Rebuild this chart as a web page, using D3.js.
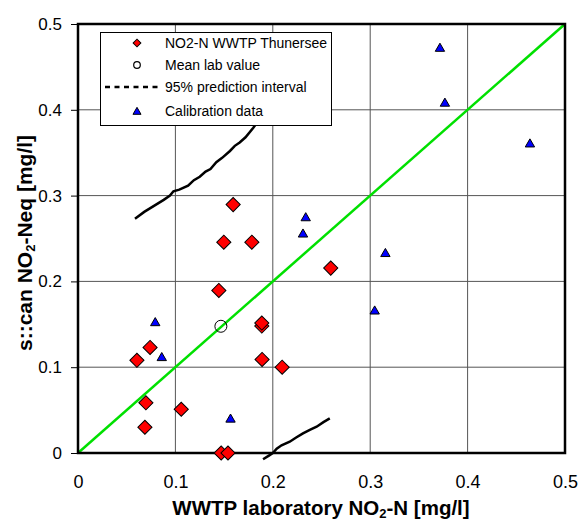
<!DOCTYPE html>
<html>
<head>
<meta charset="utf-8">
<script src="https://d3js.org/d3.v7.min.js"></script>
<style>
  body { margin: 0; background: #fff; }
  text { font-family: "Liberation Sans", Arial, sans-serif; }
</style>
</head>
<body>
<script>
// measured data (mg/l)
var ticks = [0, 0.1, 0.2, 0.3, 0.4, 0.5];
var thunLab = [0.0605, 0.074, 0.0697, 0.0687, 0.106, 0.1446, 0.1887, 0.1887, 0.189, 0.2096, 0.147, 0.154, 0.1593, 0.1497, 0.1785, 0.2595];
var thunScan = [0.108, 0.123, 0.0585, 0.030, 0.051, 0.1895, 0.148, 0.1515, 0.109, 0.100, 0, 0, 0.2895, 0.2457, 0.2457, 0.2155];
var meanLab = [0.1467];
var meanScan = [0.1477];
var calLab = [0.0793, 0.086, 0.1566, 0.2338, 0.231, 0.3156, 0.3046, 0.3716, 0.3767, 0.464];
var calScan = [0.1527, 0.112, 0.0403, 0.275, 0.256, 0.2333, 0.1663, 0.4725, 0.4085, 0.361];
var upperX = [0.0585, 0.068, 0.078, 0.088, 0.0944, 0.098, 0.104, 0.113, 0.119, 0.125, 0.131, 0.136, 0.142, 0.148, 0.156, 0.161, 0.166, 0.172, 0.180, 0.189];
var upperY = [0.273, 0.281, 0.288, 0.295, 0.300, 0.305, 0.307, 0.3116, 0.318, 0.322, 0.328, 0.331, 0.339, 0.344, 0.352, 0.358, 0.362, 0.368, 0.379, 0.393];
var lowerX = [0.190, 0.196, 0.200, 0.204, 0.209, 0.2174, 0.224, 0.231, 0.238, 0.245, 0.252, 0.2585];
var lowerY = [-0.0073, -0.003, 0.000, 0.005, 0.009, 0.0131, 0.018, 0.0229, 0.027, 0.0306, 0.036, 0.0403];
var legendLabels = ["NO2-N WWTP Thunersee", "Mean lab value", "95% prediction interval", "Calibration data"];

(function () {
  var W = 579, H = 519;
  var pL = 78, pR = 565, pT = 24, pB = 453;

  var svg = d3.select("body").append("svg").attr("width", W).attr("height", H);

  var x = d3.scaleLinear().domain([0, 0.5]).range([pL, pR]);
  var y = d3.scaleLinear().domain([0, 0.5]).range([pB, pT]);
  var fmt = function (d) { return d === 0 ? "0" : d3.format(".1f")(d); };

  // grid
  svg.append("g").selectAll("line").data(ticks.slice(1, 5)).enter().append("line")
    .attr("x1", function (d) { return x(d); }).attr("x2", function (d) { return x(d); })
    .attr("y1", pT).attr("y2", pB).attr("stroke", "#555").attr("stroke-width", 1);
  svg.append("g").selectAll("line").data(ticks.slice(1, 5)).enter().append("line")
    .attr("y1", function (d) { return y(d); }).attr("y2", function (d) { return y(d); })
    .attr("x1", pL).attr("x2", pR).attr("stroke", "#555").attr("stroke-width", 1);

  // y axis ticks + labels
  var yAxis = svg.append("g").attr("transform", "translate(" + pL + ",0)")
    .call(d3.axisLeft(y).tickValues(ticks).tickSize(7).tickPadding(9).tickFormat(fmt));
  yAxis.select(".domain").remove();
  yAxis.selectAll("line").attr("stroke", "#000");
  yAxis.selectAll("text").style("font-size", "17px").attr("fill", "#000")
    .style("font-family", "'Liberation Sans', Arial, sans-serif");

  // x axis labels
  var xAxis = svg.append("g").attr("transform", "translate(0," + pB + ")")
    .call(d3.axisBottom(x).tickValues(ticks).tickSize(0).tickPadding(22).tickFormat(fmt));
  xAxis.select(".domain").remove();
  xAxis.selectAll("text").style("font-size", "18px").attr("fill", "#000")
    .style("font-family", "'Liberation Sans', Arial, sans-serif");

  // 1:1 line
  svg.append("line").attr("x1", x(0)).attr("y1", y(0)).attr("x2", x(0.5)).attr("y2", y(0.5))
    .attr("stroke", "#00e000").attr("stroke-width", 2.5);

  // prediction interval curves
  var line = d3.line().x(function (d) { return x(d[0]); }).y(function (d) { return y(d[1]); });
  [[upperX, upperY], [lowerX, lowerY]].forEach(function (c) {
    svg.append("path").datum(c[0].map(function (v, i) { return [v, c[1][i]]; }))
      .attr("d", line).attr("fill", "none").attr("stroke", "#000").attr("stroke-width", 2.5);
  });

  // plot frame
  svg.append("rect").attr("x", pL).attr("y", pT).attr("width", pR - pL).attr("height", pB - pT)
    .attr("fill", "none").attr("stroke", "#000").attr("stroke-width", 2.5);

  var diamond = d3.symbol().type(d3.symbolSquare).size(100);
  var tri = d3.symbol().type(d3.symbolTriangle).size(38);

  // calibration triangles
  svg.append("g").selectAll("path").data(calLab).enter().append("path")
    .attr("d", tri)
    .attr("transform", function (d, i) { return "translate(" + x(d) + "," + (y(calScan[i]) + 1) + ")"; })
    .attr("fill", "#0000ff").attr("stroke", "#000").attr("stroke-width", 1);

  // Thunersee diamonds
  svg.append("g").selectAll("path").data(thunLab).enter().append("path")
    .attr("d", diamond)
    .attr("transform", function (d, i) { return "translate(" + x(d) + "," + y(thunScan[i]) + ") rotate(45)"; })
    .attr("fill", "#ff0000").attr("stroke", "#000").attr("stroke-width", 1);

  // mean lab value
  svg.append("g").selectAll("circle").data(meanLab).enter().append("circle")
    .attr("cx", function (d) { return x(d); }).attr("cy", function (d, i) { return y(meanScan[i]); })
    .attr("r", 6).attr("fill", "none").attr("stroke", "#000").attr("stroke-width", 1);

  // legend
  var lg = svg.append("g");
  lg.append("rect").attr("x", 100.5).attr("y", 32.5).attr("width", 231).attr("height", 93)
    .attr("fill", "#fff").attr("stroke", "#000").attr("stroke-width", 1);
  var rowY = [43, 65, 87, 111];
  legendLabels.forEach(function (t, i) {
    lg.append("text").attr("x", 165).attr("y", rowY[i] + 5).style("font-size", "14px").text(t);
  });
  lg.append("path").attr("d", d3.symbol().type(d3.symbolSquare).size(30))
    .attr("transform", "translate(137," + rowY[0] + ") rotate(45)")
    .attr("fill", "#ff0000").attr("stroke", "#000").attr("stroke-width", 1);
  lg.append("circle").attr("cx", 137).attr("cy", rowY[1]).attr("r", 3.3)
    .attr("fill", "#fff").attr("stroke", "#000").attr("stroke-width", 1.2);
  lg.append("line").attr("x1", 105).attr("x2", 160).attr("y1", rowY[2]).attr("y2", rowY[2])
    .attr("stroke", "#000").attr("stroke-width", 2.5).attr("stroke-dasharray", "5,4.5");
  lg.append("path").attr("d", d3.symbol().type(d3.symbolTriangle).size(28))
    .attr("transform", "translate(137," + (rowY[3] + 1) + ")")
    .attr("fill", "#0000ff").attr("stroke", "#000").attr("stroke-width", 1);

  // axis titles
  var xt = svg.append("text").attr("x", 321).attr("y", 515).attr("text-anchor", "middle")
    .style("font-size", "20.5px").style("font-weight", "bold");
  xt.append("tspan").text("WWTP laboratory NO");
  xt.append("tspan").attr("dy", 3).style("font-size", "13px").text("2");
  xt.append("tspan").attr("dy", -3).text("-N [mg/l]");

  var yt = svg.append("text").attr("transform", "translate(32,243) rotate(-90)").attr("text-anchor", "middle")
    .style("font-size", "21px").style("font-weight", "bold");
  yt.append("tspan").text("s::can NO");
  yt.append("tspan").attr("dy", 3).style("font-size", "13px").text("2");
  yt.append("tspan").attr("dy", -3).text("-Neq [mg/l]");
})();
</script>
</body>
</html>
